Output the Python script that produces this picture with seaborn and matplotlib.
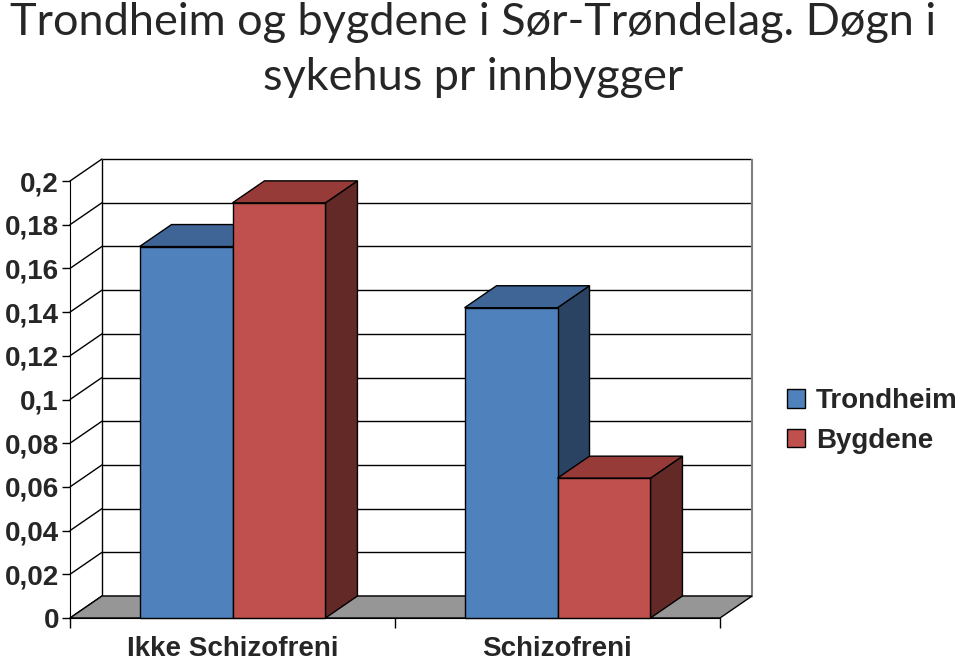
import numpy as np
import pandas as pd
import matplotlib
matplotlib.use('Agg')
import matplotlib.pyplot as plt
import matplotlib.colors as mcolors
import matplotlib.transforms as mtransforms
from matplotlib.patches import Polygon, Patch
import seaborn as sns

# data
categories = ['Ikke Schizofreni', 'Schizofreni']
groups = ['Trondheim', 'Bygdene']
trondheim = [0.170, 0.142]
bygdene = [0.190, 0.064]
yticks = [0, 0.02, 0.04, 0.06, 0.08, 0.1, 0.12, 0.14, 0.16, 0.18, 0.2]

title = 'Trondheim og bygdene i Sør-Trøndelag. Døgn i\nsykehus pr innbygger'

front_colors = {'Trondheim': '#4F81BD', 'Bygdene': '#C0504D'}
top_colors = {'Trondheim': '#3F6596', 'Bygdene': '#963B38'}
side_colors = {'Trondheim': '#2A4363', 'Bygdene': '#622927'}

df = pd.DataFrame({
    'kategori': categories * 2,
    'gruppe': [groups[0]] * 2 + [groups[1]] * 2,
    'verdi': trondheim + bygdene,
})

sns.set_style('white')
plt.rcParams['font.family'] = ['Liberation Sans', 'DejaVu Sans']
plt.rcParams['font.weight'] = 'bold'

DPI = 100
fig = plt.figure(figsize=(9.6, 6.61), dpi=DPI)
ax = fig.add_axes([70 / 960, 43 / 661, 650 / 960, 437 / 661])

sns.barplot(data=df, x='kategori', y='verdi', hue='gruppe', order=categories,
            hue_order=groups, palette=front_colors, saturation=1, width=0.572,
            edgecolor='black', linewidth=1, legend=False, ax=ax)
bars = sorted(ax.patches, key=lambda p: p.get_x())

ax.set_xlim(-0.5, 1.5)
ax.set_ylim(0, 0.2)
ax.set_xlabel('')
ax.set_ylabel('')

# 3d depth: back plane is shifted right and up
depth = mtransforms.ScaledTranslation(32 / DPI, 22 / DPI, fig.dpi_scale_trans)
back = ax.transData + depth
ident = mtransforms.IdentityTransform()


def front_px(x, y):
    return ax.transData.transform((x, y))


def back_px(x, y):
    return back.transform((x, y))


# back wall with gridlines
wall = Polygon([back_px(-0.5, 0), back_px(1.5, 0), back_px(1.5, 0.2), back_px(-0.5, 0.2)],
               closed=True, transform=ident, facecolor='white', edgecolor='none',
               clip_on=False, zorder=0.2)
ax.add_patch(wall)
ax.hlines(yticks, -0.5, 1.5, transform=back, colors='black', lw=1, clip_on=False, zorder=0.5)
ax.vlines([-0.5], 0, 0.2, transform=back, colors='black', lw=1, clip_on=False, zorder=0.5)
ax.vlines([1.5], 0, 0.2, transform=back, colors='#808080', lw=1.5, clip_on=False, zorder=0.5)
for v in yticks:
    p0, p1 = front_px(-0.5, v), back_px(-0.5, v)
    ax.plot([p0[0], p1[0]], [p0[1], p1[1]], transform=ident, color='black', lw=1,
            clip_on=False, zorder=0.5)

# floor
floor = Polygon([front_px(-0.5, 0), front_px(1.5, 0), back_px(1.5, 0), back_px(-0.5, 0)],
                closed=True, transform=ident, facecolor='#969696', edgecolor='black',
                lw=1, clip_on=False, zorder=1)
ax.add_patch(floor)

# side and top faces for each bar, left to right so fronts overlap correctly
for i, bar in enumerate(bars):
    g = [k for k, c in front_colors.items()
         if np.allclose(mcolors.to_rgba(c), bar.get_facecolor())][0]
    x0, x1 = bar.get_x(), bar.get_x() + bar.get_width()
    h = bar.get_height()
    z = 3 + 2 * i
    top = Polygon([front_px(x0, h), front_px(x1, h), back_px(x1, h), back_px(x0, h)],
                  closed=True, transform=ident, facecolor=top_colors[g],
                  edgecolor='black', lw=1, clip_on=False, zorder=z)
    side = Polygon([front_px(x1, 0), back_px(x1, 0), back_px(x1, h), front_px(x1, h)],
                   closed=True, transform=ident, facecolor=side_colors[g],
                   edgecolor='black', lw=1, clip_on=False, zorder=z)
    ax.add_patch(side)
    ax.add_patch(top)
    bar.set_zorder(z + 0.5)
    bar.set_clip_on(False)

# axes and ticks
for s in ['top', 'right']:
    ax.spines[s].set_visible(False)
ax.spines['left'].set_color('black')
ax.spines['bottom'].set_color('black')
ax.spines['left'].set_zorder(20)
ax.spines['bottom'].set_zorder(20)
ax.set_yticks(yticks)
ax.set_yticklabels(['{:g}'.format(v).replace('.', ',') for v in yticks])
ax.tick_params(axis='y', which='major', length=6, width=1, color='black',
               direction='out', labelsize=20, pad=2, left=True)
ax.set_xticks([0, 1])
ax.set_xticklabels(categories)
ax.set_xticks([-0.5, 0.5, 1.5], minor=True)
ax.tick_params(axis='x', which='major', length=0, labelsize=20, pad=13)
ax.tick_params(axis='x', which='minor', length=7, width=1, color='black',
               direction='out', bottom=True)
ax.grid(False)
ax.patch.set_alpha(0)

handles = [Patch(facecolor=front_colors[g], edgecolor='black', lw=1) for g in groups]
fig.legend(handles, groups, loc='center left', bbox_to_anchor=(773 / 960, 1 - 421 / 661),
           frameon=False, fontsize=20, handlelength=0.65, handleheight=0.65,
           handletextpad=0.4, labelspacing=0.5, borderpad=0)

fig.text(0.493, 0.997, title, ha='center', va='top', fontsize=32.5,
         family=['Lato', 'DejaVu Sans'], fontweight='normal', linespacing=1.41)

fig.savefig('out.png', dpi=DPI)
